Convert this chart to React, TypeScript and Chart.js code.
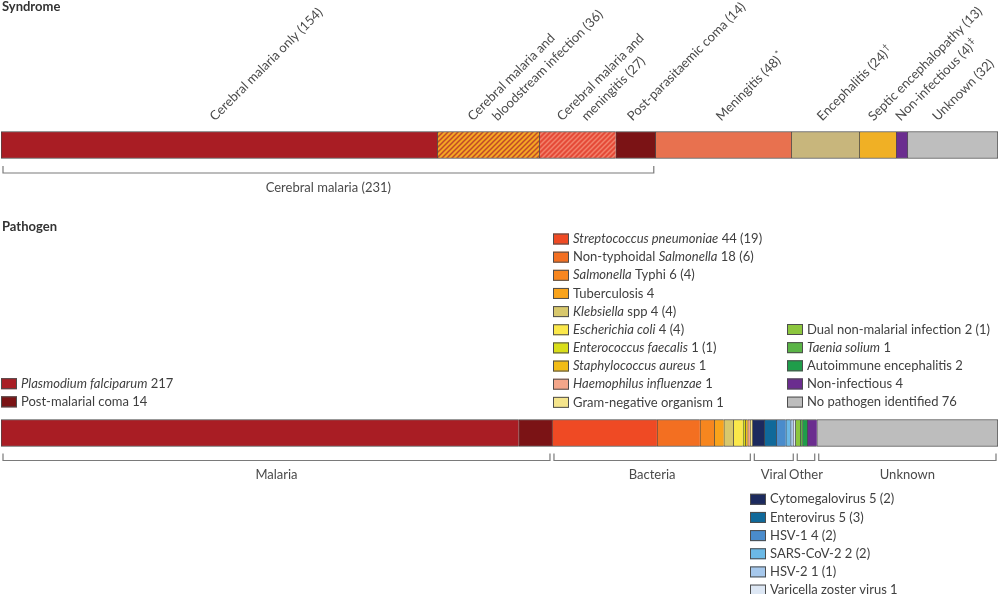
import React, { useEffect, useRef } from "react";
import { Chart, registerables } from "chart.js";

Chart.register(...registerables);

// ---------- DATA ----------
const categories = ["Syndrome", "Pathogen"];

const syndromeNames = [
  "Cerebral malaria only",
  "Cerebral malaria and\nbloodstream infection",
  "Cerebral malaria and\nmeningitis",
  "Post-parasitaemic coma",
  "Meningitis",
  "Encephalitis",
  "Septic encephalopathy",
  "Non-infectious",
  "Unknown",
];
const syndromeValues = [154, 36, 27, 14, 48, 24, 13, 4, 32];
const syndromeMarks = ["", "", "", "", "*", "†", "", "‡", ""];
const syndromeColors = ["#a91d24", "#f5a623", "#e54a38", "#7b1315", "#e8714f", "#c8b67c", "#f0b025", "#6b2d8f", "#bebebe"];
const syndromeHatch: (string | null)[] = [null, "#bf4a28", "#f2826c", null, null, null, null, null, null];
const syndromeGroupLabels = ["Cerebral malaria"];
const syndromeGroupSpans = [[0, 3]];

const pathogenNames = [
  "_Plasmodium falciparum_",
  "Post-malarial coma",
  "_Streptococcus pneumoniae_",
  "Non-typhoidal _Salmonella_",
  "_Salmonella_ Typhi",
  "Tuberculosis",
  "_Klebsiella_ spp",
  "_Escherichia coli_",
  "_Enterococcus faecalis_",
  "_Staphylococcus aureus_",
  "_Haemophilus influenzae_",
  "Gram-negative organism",
  "Cytomegalovirus",
  "Enterovirus",
  "HSV-1",
  "SARS-CoV-2",
  "HSV-2",
  "Varicella zoster virus",
  "Dual non-malarial infection",
  "_Taenia solium_",
  "Autoimmune encephalitis",
  "Non-infectious",
  "No pathogen identified",
];
const pathogenValues = [217, 14, 44, 18, 6, 4, 4, 4, 1, 1, 1, 1, 5, 5, 4, 2, 1, 1, 2, 1, 2, 4, 76];
const pathogenParens: (number | null)[] = [null, null, 19, 6, 4, null, 4, 4, 1, null, null, null, 2, 3, 2, 2, 1, null, 1, null, null, null, null];
const pathogenColors = [
  "#a91d24", "#7b1315",
  "#ef4a24", "#f36f21", "#f7861f", "#f9a31b", "#d8c86c", "#fbe84a", "#d9de1a", "#f2bc16", "#f4a68a", "#f5e58c",
  "#1c2a5e", "#10699a", "#4a8ccc", "#6bb9e6", "#a6c8ec", "#dde7f4",
  "#8cc63e", "#5ab446", "#1f9d4a", "#6b2d8f", "#bdbdbd",
];
const pathogenGroupLabels = ["Malaria", "Bacteria", "Viral", "Other", "Unknown"];
const pathogenGroupSpans = [[0, 1], [2, 11], [12, 17], [18, 21], [22, 22]];

// ---------- LAYOUT ----------
const FONT = "Lato";
const TEXT = "#3f3f3f";
const LABEL = "#4a4a4a";
const legendColumns = [
  { x: 1, y: 383.7, items: [0, 1] },
  { x: 553, y: 239, items: [2, 3, 4, 5, 6, 7, 8, 9, 10, 11] },
  { x: 787, y: 329.5, items: [18, 19, 20, 21, 22] },
  { x: 750, y: 499.3, items: [12, 13, 14, 15, 16, 17] },
];
const ROW_H = 18.15;
const labelShift = [-4, -3, -3, -3, -2, -3, -4, -1, -15];

const sum = (a: number[], from: number, to: number) => a.slice(from, to + 1).reduce((s, v) => s + v, 0);

function drawRich(ctx: CanvasRenderingContext2D, text: string, x: number, y: number) {
  const parts = text.split("_");
  let cx = x;
  parts.forEach((p, i) => {
    if (!p) return;
    ctx.font = (i % 2 === 1 ? "italic " : "") + `13px ${FONT}`;
    ctx.fillText(p, cx, y);
    cx += ctx.measureText(p).width;
  });
}

const annotPlugin = {
  id: "annot",
  afterDatasetsDraw(chart: any) {
    const ctx: CanvasRenderingContext2D = chart.ctx;
    const xs = chart.scales.xs;
    const xp = chart.scales.xp;
    ctx.save();

    // Titles
    ctx.fillStyle = "#333";
    ctx.font = `bold 13px ${FONT}`;
    ctx.textBaseline = "alphabetic";
    ctx.textAlign = "left";
    ctx.fillText("Syndrome", 2, 11);
    ctx.fillText("Pathogen", 2, 231);

    // Rotated syndrome labels
    const nS = syndromeNames.length;
    for (let i = 0; i < nS; i++) {
      const el = chart.getDatasetMeta(i).data[0];
      if (!el) continue;
      const cx = (el.x + el.base) / 2 + labelShift[i];
      const top = el.y - el.height / 2;
      const lines = syndromeNames[i].split("\n");
      lines[lines.length - 1] += ` (${syndromeValues[i]})`;
      const n = lines.length;
      lines.forEach((line, k) => {
        const ax = cx + (k - (n - 1) / 2) * 24.5;
        const ay = top - 10;
        ctx.save();
        ctx.translate(ax, ay);
        ctx.rotate(-Math.PI / 4);
        ctx.fillStyle = LABEL;
        ctx.font = `13px ${FONT}`;
        ctx.textAlign = "left";
        ctx.textBaseline = "alphabetic";
        ctx.fillText(line, 0, 0);
        if (k === n - 1 && syndromeMarks[i]) {
          const w = ctx.measureText(line).width;
          ctx.font = `9px ${FONT}`;
          ctx.fillText(syndromeMarks[i], w + 1, -5);
        }
        ctx.restore();
      });
    }

    // Brackets
    const drawBracket = (x1: number, x2: number, y: number, label: string) => {
      ctx.strokeStyle = "#7a7a7a";
      ctx.lineWidth = 1.2;
      ctx.beginPath();
      ctx.moveTo(x1, y - 7);
      ctx.lineTo(x1, y);
      ctx.lineTo(x2, y);
      ctx.lineTo(x2, y - 7);
      ctx.stroke();
      ctx.fillStyle = LABEL;
      ctx.font = `13px ${FONT}`;
      ctx.textAlign = "center";
      ctx.textBaseline = "middle";
      ctx.fillText(label, (x1 + x2) / 2, y + 14.5);
    };
    const sEl = chart.getDatasetMeta(0).data[0];
    const sBottom = sEl.y + sEl.height / 2;
    syndromeGroupSpans.forEach(([a, b], gi) => {
      const v0 = sum(syndromeValues, 0, a - 1);
      const v1 = sum(syndromeValues, 0, b);
      drawBracket(xs.getPixelForValue(v0) + 2, xs.getPixelForValue(v1) - 1.5, sBottom + 14.5,
        `${syndromeGroupLabels[gi]} (${v1 - v0})`);
    });
    const pEl = chart.getDatasetMeta(nS).data[1];
    const pBottom = pEl.y + pEl.height / 2;
    pathogenGroupSpans.forEach(([a, b], gi) => {
      const v0 = sum(pathogenValues, 0, a - 1);
      const v1 = sum(pathogenValues, 0, b);
      drawBracket(xp.getPixelForValue(v0) + 2, xp.getPixelForValue(v1) - 2, pBottom + 14,
        pathogenGroupLabels[gi]);
    });

    // Legends
    ctx.textAlign = "left";
    ctx.textBaseline = "middle";
    legendColumns.forEach((col) => {
      col.items.forEach((idx, r) => {
        const y = col.y + r * ROW_H;
        ctx.fillStyle = pathogenColors[idx];
        ctx.fillRect(col.x, y - 5.5, 16, 11);
        ctx.strokeStyle = "#4d4d4d";
        ctx.lineWidth = 1;
        ctx.strokeRect(col.x + 0.5, y - 5, 15, 10);
        ctx.fillStyle = TEXT;
        const par = pathogenParens[idx];
        const label = `${pathogenNames[idx]} ${pathogenValues[idx]}` + (par != null ? ` (${par})` : "");
        drawRich(ctx, label, col.x + 20, y);
      });
    });

    ctx.restore();
  },
};

export default function App() {
  const ref = useRef<HTMLCanvasElement>(null);
  useEffect(() => {
    const canvas = ref.current!;
    const mainCtx = canvas.getContext("2d")!;
    const makeHatch = (base: string, stripe: string) => {
      const s = 5;
      const c = document.createElement("canvas");
      c.width = s;
      c.height = s;
      const g = c.getContext("2d")!;
      g.fillStyle = base;
      g.fillRect(0, 0, s, s);
      g.strokeStyle = stripe;
      g.lineWidth = 1.5;
      g.beginPath();
      g.moveTo(0, s);
      g.lineTo(s, 0);
      g.moveTo(-s / 2, s / 2);
      g.lineTo(s / 2, -s / 2);
      g.moveTo(s / 2, s * 1.5);
      g.lineTo(s * 1.5, s / 2);
      g.stroke();
      return mainCtx.createPattern(c, "repeat");
    };

    const border = (last: boolean) => ({ top: 1, bottom: 1, left: 1, right: last ? 1 : 0 });

    const sDatasets = syndromeValues.map((v, i) => ({
      label: syndromeNames[i],
      data: [v, null],
      backgroundColor: syndromeHatch[i] ? makeHatch(syndromeColors[i], syndromeHatch[i] as string) : syndromeColors[i],
      borderColor: "#4a4a4a",
      borderWidth: border(i === syndromeValues.length - 1),
      borderSkipped: false,
      xAxisID: "xs",
      yAxisID: "y",
      barThickness: 27,
    }));
    const pDatasets = pathogenValues.map((v, i) => ({
      label: pathogenNames[i].replace(/_/g, ""),
      data: [null, v],
      backgroundColor: pathogenColors[i],
      borderColor: "#4a4a4a",
      borderWidth: border(i === pathogenValues.length - 1),
      borderSkipped: false,
      xAxisID: "xp",
      yAxisID: "y",
      barThickness: 27,
    }));

    const chart = new Chart(canvas, {
      type: "bar",
      data: { labels: categories, datasets: [...sDatasets, ...pDatasets] as any },
      options: {
        indexAxis: "y",
        animation: false,
        responsive: false,
        devicePixelRatio: window.devicePixelRatio || 1,
        layout: { padding: { left: 1, right: 2, top: 1, bottom: 17 } },
        plugins: { legend: { display: false }, tooltip: { enabled: false }, title: { display: false } },
        scales: {
          xs: { axis: "x", type: "linear", display: false, stacked: true, min: 0, max: sum(syndromeValues, 0, syndromeValues.length - 1) },
          xp: { axis: "x", type: "linear", display: false, stacked: true, min: 0, max: sum(pathogenValues, 0, pathogenValues.length - 1) },
          y: { type: "category", display: false, stacked: true },
        },
      } as any,
      plugins: [annotPlugin],
    });
    return () => chart.destroy();
  }, []);

  return (
    <div style={{ position: "fixed", left: 0, top: 0, width: 1000, height: 594, background: "#fff" }}>
      <canvas ref={ref} width={1000} height={594} />
    </div>
  );
}
